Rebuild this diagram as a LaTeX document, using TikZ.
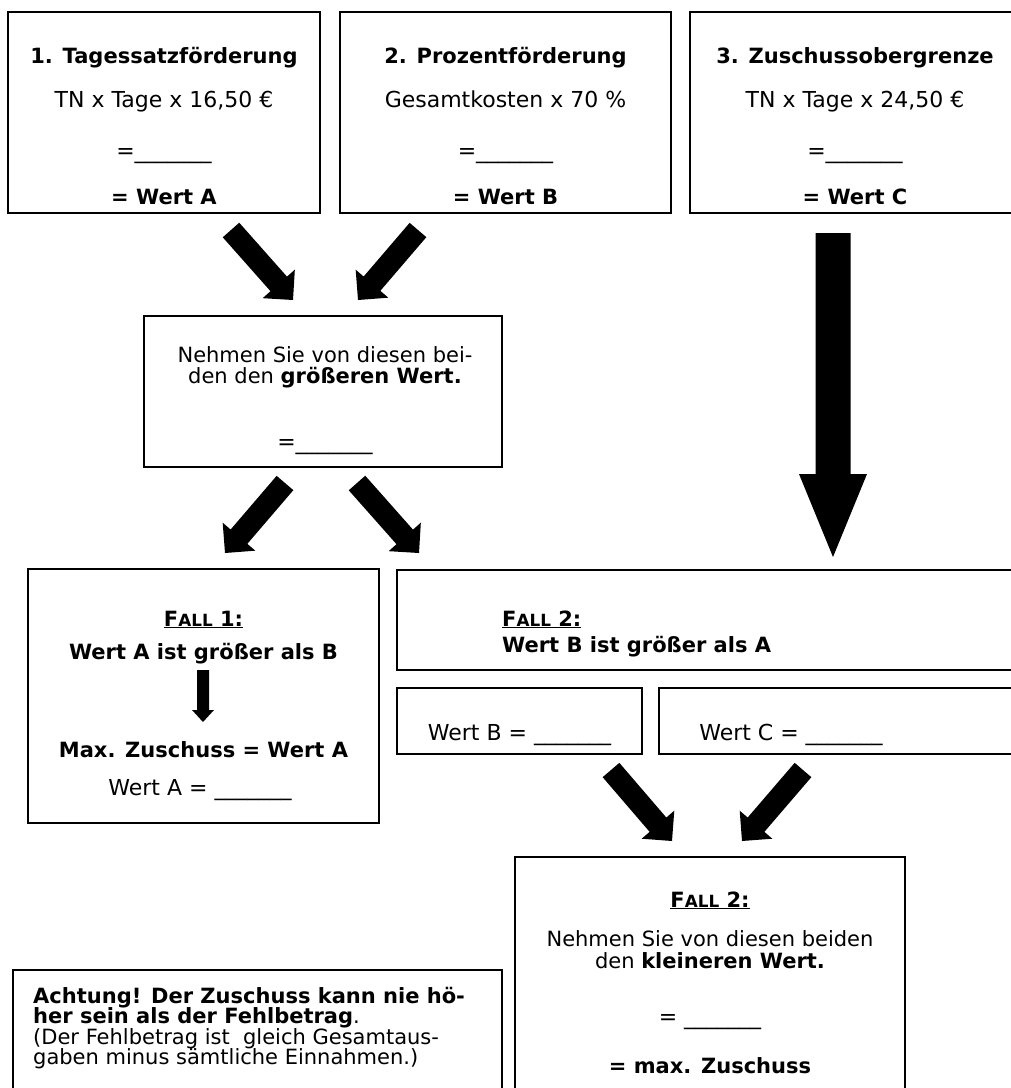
\documentclass[tikz,border=0pt]{standalone}
\usepackage{fontspec}
\setmainfont{DejaVu Sans}
\usetikzlibrary{calc}
\newcommand\blockarrow[5]{%
  \coordinate (ba-h) at ($(#2)!#5!(#1)$);
  \fill ($(#1)!#3!90:(#2)$) -- ($(ba-h)!#3!90:(#2)$) -- ($(ba-h)!#4!90:(#2)$) -- (#2)
     -- ($(ba-h)!#4!-90:(#2)$) -- ($(ba-h)!#3!-90:(#2)$) -- ($(#1)!#3!-90:(#2)$) -- cycle;}
\newcommand\falltitle[1]{\underline{\fontsize{21}{19}\selectfont\bfseries F{\fontsize{16.8}{16}\selectfont ALL} #1:}}
\newcommand\blank{\_\_\_\_\_\_\_}
\begin{document}
\begin{tikzpicture}[x=1pt,y=-1pt,
  box/.style={draw, line width=1.5pt, inner sep=0pt, outer sep=0pt},
  txt/.style={anchor=base, inner sep=0pt, font=\fontsize{22}{19}\selectfont},
  bt/.style={txt, font=\fontsize{21}{19}\selectfont\bfseries},
  stxt/.style={txt, font=\fontsize{21}{19}\selectfont},
  ltxt/.style={stxt, anchor=base west},
  lbt/.style={bt, anchor=base west}]
\useasboundingbox (0,0) rectangle (1011,1088);
\clip (0,0) rectangle (1011,1088);
% top boxes
\node[box, minimum width=312pt, minimum height=201pt] (b1) at (164,112.5) {};
\node[box, minimum width=331pt, minimum height=201pt] (b2) at (505.5,112.5) {};
\node[box, minimum width=340pt, minimum height=201pt] (b3) at (860,112.5) {};
\node[bt] (b1t) at (164,63) {1. Tagessatzförderung};
\node[txt] (b1f) at (164,107) {TN x Tage x 16,50 €};
\node[txt] (b1e) at (164,158) {=\blank};
\node[bt] (b1w) at (164,204) {= Wert A};
\node[bt] (b2t) at (505.5,63) {2. Prozentförderung};
\node[txt] (b2f) at (505.5,107) {Gesamtkosten x 70 \%};
\node[txt] (b2e) at (505.5,158) {=\blank};
\node[bt] (b2w) at (505.5,204) {= Wert B};
\node[bt] (b3t) at (855,63) {3. Zuschussobergrenze};
\node[txt] (b3f) at (855,107) {TN x Tage x 24,50 €};
\node[txt] (b3e) at (855,158) {=\blank};
\node[bt] (b3w) at (855,204) {= Wert C};
% middle box
\node[box, minimum width=358pt, minimum height=151pt] (mid) at (323,391.5) {};
\node[stxt] (m1) at (325,362) {Nehmen Sie von diesen bei-};
\node[stxt] (m2) at (325,383) {den den \textbf{größeren Wert.}};
\node[txt] (m3) at (325,449) {=\blank};
% Fall 1
\node[box, minimum width=351pt, minimum height=254pt] (f1) at (203.5,696) {};
\node[txt] (f1t) at (203.5,626) {\falltitle{1}};
\node[bt] (f1a) at (203.5,659) {Wert A ist größer als B};
\node[bt] (f1b) at (203.5,757) {Max. Zuschuss = Wert A};
\node[txt] (f1c) at (200,795) {Wert A = \blank};
% Fall 2 top
\node[box, minimum width=633pt, minimum height=100pt] (f2a) at (713.5,620) {};
\node[ltxt] (f2t) at (502,626) {\falltitle{2}};
\node[lbt] (f2x) at (502,652) {Wert B ist größer als A};
\node[box, minimum width=245pt, minimum height=66pt] (wb) at (519.5,721) {};
\node[box, minimum width=371pt, minimum height=66pt] (wc) at (844.5,721) {};
\node[txt] (wbt) at (519.5,740) {Wert B = \blank};
\node[txt] (wct) at (791,740) {Wert C = \blank};
% Fall 2 bottom
\node[box, minimum width=390pt, minimum height=243pt] (f2b) at (710,978.5) {};
\node[txt] (g1) at (710,907) {\falltitle{2}};
\node[stxt] (g2) at (710,946) {Nehmen Sie von diesen beiden};
\node[stxt] (g3) at (710,968) {den \textbf{kleineren Wert.}};
\node[txt] (g4) at (710,1024) {= \blank};
\node[bt] (g5) at (710,1073) {= max. Zuschuss};
% Achtung
\node[box, minimum width=489pt, minimum height=130pt] (ach) at (257.5,1035) {};
\node[lbt] (h1) at (33,1003) {Achtung! Der Zuschuss kann nie hö-};
\node[ltxt] (h2) at (33,1023.5) {\textbf{her sein als der Fehlbetrag}.};
\node[ltxt] (h3) at (33,1044) {(Der Fehlbetrag ist\ \ gleich Gesamtaus-};
\node[ltxt] (h4) at (33,1064.5) {gaben minus sämtliche Einnahmen.)};
% arrows
\coordinate (a1s) at (231,230); \coordinate (a1e) at (293,300);
\coordinate (a2s) at (418,230); \coordinate (a2e) at (358,300);
\coordinate (a3s) at (833,233); \coordinate (a3e) at (833,557);
\coordinate (a4s) at (285,483); \coordinate (a4e) at (225,553);
\coordinate (a5s) at (357,483); \coordinate (a5e) at (419,553);
\coordinate (a6s) at (203,670); \coordinate (a6e) at (203,722);
\coordinate (a7s) at (611,770); \coordinate (a7e) at (672,841);
\coordinate (a8s) at (803,770); \coordinate (a8e) at (742,841);
\blockarrow{a1s}{a1e}{11pt}{21.5pt}{21.5pt}
\blockarrow{a2s}{a2e}{11pt}{21.5pt}{21.5pt}
\blockarrow{a3s}{a3e}{17.5pt}{34pt}{83pt}
\blockarrow{a4s}{a4e}{11pt}{21.5pt}{21.5pt}
\blockarrow{a5s}{a5e}{11pt}{21.5pt}{21.5pt}
\blockarrow{a6s}{a6e}{6pt}{11pt}{12pt}
\blockarrow{a7s}{a7e}{11pt}{21.5pt}{21.5pt}
\blockarrow{a8s}{a8e}{11pt}{21.5pt}{21.5pt}
\end{tikzpicture}
\end{document}
